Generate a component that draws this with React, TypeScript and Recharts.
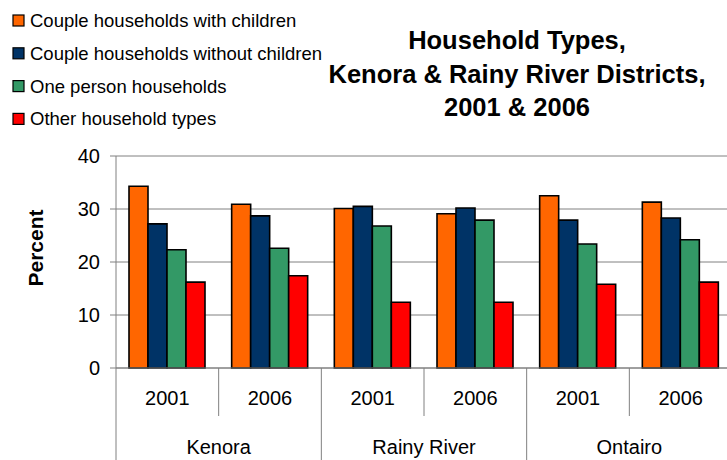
import React from 'react';
import { BarChart, Bar, XAxis, YAxis, CartesianGrid, Legend } from 'recharts';

const regions = ['Kenora', 'Rainy River', 'Ontairo'];
const years = ['2001', '2006'];
const withChildren = [34.3, 30.9, 30.1, 29.1, 32.5, 31.3];
const withoutChildren = [27.2, 28.7, 30.5, 30.2, 27.9, 28.3];
const onePerson = [22.3, 22.6, 26.8, 27.9, 23.4, 24.2];
const otherTypes = [16.2, 17.4, 12.4, 12.4, 15.8, 16.2];
const yTicks = [0, 10, 20, 30, 40];
const titleLines = ['Household Types,', 'Kenora & Rainy River Districts,', '2001 & 2006'];

const seriesNames = [
  'Couple households with children',
  'Couple households without children',
  'One person households',
  'Other household types',
];
const seriesColors = ['#FF6600', '#003366', '#339966', '#FF0000'];

const rows = regions.flatMap((r, ri) =>
  years.map((y, yi) => {
    const i = ri * 2 + yi;
    return {
      key: `${r} ${y}`,
      year: y,
      region: r,
      a: withChildren[i],
      b: withoutChildren[i],
      c: onePerson[i],
      d: otherTypes[i],
    };
  })
);

const FONT = '"Liberation Sans", Arial, Helvetica, sans-serif';
const CHART_W = 740;
const CHART_H = 460;
const MARGIN = { top: 156, right: 8, left: 0, bottom: 0 };
const Y_W = 116;
const X_H = 92;
const BAND = (CHART_W - MARGIN.left - MARGIN.right - Y_W) / rows.length;
const LINE = '#808080';

const XTick = (props: any) => {
  const { x, y, index } = props;
  const row = rows[index];
  if (!row) return null;
  const left = x - BAND / 2;
  const regionStart = index % 2 === 0;
  return (
    <g>
      <line x1={left} y1={y} x2={left} y2={y + (regionStart ? X_H + 2 : 48)} stroke={LINE} strokeWidth={1} />
      <text x={x} y={y + 30} textAnchor="middle" dominantBaseline="central" fontSize={20} fill="#000" fontFamily={FONT}>
        {row.year}
      </text>
      {regionStart && (
        <text x={x + BAND / 2} y={y + 79} textAnchor="middle" dominantBaseline="central" fontSize={20} fill="#000" fontFamily={FONT}>
          {row.region}
        </text>
      )}
    </g>
  );
};

const YLabel = () => (
  <text
    x={35}
    y={248}
    transform="rotate(-90, 35, 248)"
    textAnchor="middle"
    dominantBaseline="central"
    fontSize={21}
    fontWeight="bold"
    fill="#000"
    fontFamily={FONT}
  >
    Percent
  </text>
);

const LegendContent = (props: any) => {
  const payload = props.payload || [];
  return (
    <svg width={340} height={135} style={{ display: 'block' }}>
      {payload.map((p: any, i: number) => {
        const cy = 20.5 + i * 32.8;
        return (
          <g key={i}>
            <rect x={13} y={cy - 5.5} width={11} height={11} fill={p.color} stroke="#000" strokeWidth={1.2} />
            <text x={30} y={cy} dominantBaseline="central" fontSize={18.5} fill="#000" fontFamily={FONT}>
              {p.value}
            </text>
          </g>
        );
      })}
    </svg>
  );
};

export default function App() {
  return (
    <div style={{ position: 'absolute', left: 0, top: 0, width: 727, height: 460, overflow: 'hidden', background: '#fff' }}>
      <BarChart
        width={CHART_W}
        height={CHART_H}
        data={rows}
        margin={MARGIN}
        barCategoryGap={13}
        barGap={0}
      >
        <CartesianGrid horizontal vertical={false} stroke={LINE} strokeDasharray="" />
        <XAxis
          dataKey="key"
          height={X_H}
          interval={0}
          tickSize={0}
          tickMargin={0}
          tickLine={false}
          axisLine={{ stroke: LINE }}
          tick={<XTick />}
        />
        <YAxis
          width={Y_W}
          domain={[0, 40]}
          ticks={yTicks}
          tickSize={6}
          tickMargin={10}
          tickLine={{ stroke: LINE }}
          axisLine={{ stroke: LINE }}
          tick={{ fontSize: 20, fill: '#000', fontFamily: FONT }}
          label={<YLabel />}
        />
        <Legend
          layout="horizontal"
          verticalAlign="middle"
          align="center"
          wrapperStyle={{ top: 0, left: 0, width: 340, height: 135 }}
          content={<LegendContent />}
        />
        {['a', 'b', 'c', 'd'].map((k, i) => (
          <Bar
            key={k}
            dataKey={k}
            name={seriesNames[i]}
            fill={seriesColors[i]}
            stroke="#000"
            strokeWidth={1.6}
            isAnimationActive={false}
          />
        ))}
      </BarChart>
      <div
        style={{
          position: 'absolute',
          left: 317,
          top: 24,
          width: 400,
          textAlign: 'center',
          fontFamily: FONT,
          fontWeight: 'bold',
          fontSize: 25.5,
          lineHeight: '33.5px',
          color: '#000',
        }}
      >
        {titleLines.map((t, i) => (
          <div key={i} style={{ whiteSpace: 'nowrap' }}>{t}</div>
        ))}
      </div>
    </div>
  );
}
